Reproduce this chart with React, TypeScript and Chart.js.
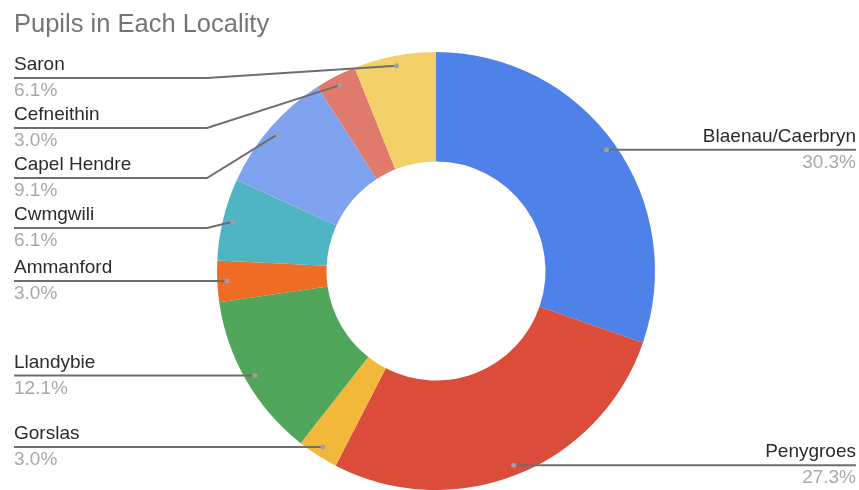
import React, { useEffect, useRef } from "react";
import { Chart, registerables } from "chart.js";

Chart.register(...registerables);

const TITLE = "Pupils in Each Locality";
const categories = [
  "Blaenau/Caerbryn",
  "Penygroes",
  "Gorslas",
  "Llandybie",
  "Ammanford",
  "Cwmgwili",
  "Capel Hendre",
  "Cefneithin",
  "Saron",
];
const pupils = [10, 9, 1, 4, 1, 2, 3, 1, 2];
const sliceColors = [
  "#4F82E8",
  "#DC4C3A",
  "#F2B83A",
  "#50A65A",
  "#EE6C24",
  "#50B5C3",
  "#80A3EF",
  "#E07A6D",
  "#F4D068",
];

const FONT = '"Liberation Sans", Arial, sans-serif';

const labelPlugin = {
  id: "leaderLabels",
  afterDraw(chart: any) {
    const ctx = chart.ctx;
    const W = chart.width;
    // title
    ctx.save();
    ctx.fillStyle = "#757575";
    ctx.font = `25.5px ${FONT}`;
    ctx.textAlign = "left";
    ctx.textBaseline = "alphabetic";
    ctx.fillText(TITLE, 14, 32);

    const meta = chart.getDatasetMeta(0);
    const data = chart.data.datasets[0].data as number[];
    const total = data.reduce((a: number, b: number) => a + b, 0);
    const items: any[] = [];
    meta.data.forEach((arc: any, i: number) => {
      const p = arc.getProps(["x", "y", "startAngle", "endAngle", "outerRadius"], true);
      const a = (p.startAngle + p.endAngle) / 2;
      const r = p.outerRadius * 0.955;
      const ax = p.x + r * Math.cos(a);
      const ay = p.y + r * Math.sin(a);
      items.push({
        i,
        ax,
        ay,
        side: ax < p.x ? "L" : "R",
        ly: ay,
        name: chart.data.labels[i],
        pct: ((data[i] / total) * 100).toFixed(1) + "%",
      });
    });
    const topBound = 78;
    const spacing = 50;
    ["L", "R"].forEach((side) => {
      const s = items.filter((it) => it.side === side).sort((a, b) => a.ay - b.ay);
      let prev = -Infinity;
      s.forEach((it) => {
        let y = Math.max(it.ay, topBound, prev + spacing);
        it.ly = y;
        prev = y;
      });
    });

    items.forEach((it) => {
      ctx.strokeStyle = "#6e6e6e";
      ctx.lineWidth = 2;
      ctx.beginPath();
      if (it.side === "L") {
        const elbow = Math.min(207, it.ax - 15);
        ctx.moveTo(14, it.ly);
        ctx.lineTo(elbow, it.ly);
        ctx.lineTo(it.ax, it.ay);
      } else {
        const elbow = Math.max(W - 207, it.ax + 15);
        ctx.moveTo(W - 3, it.ly);
        ctx.lineTo(elbow, it.ly);
        ctx.lineTo(it.ax, it.ay);
      }
      ctx.stroke();
      ctx.fillStyle = "#a0a0a0";
      ctx.beginPath();
      ctx.arc(it.ax, it.ay, 2.5, 0, Math.PI * 2);
      ctx.fill();

      ctx.font = `19px ${FONT}`;
      ctx.textBaseline = "alphabetic";
      const x = it.side === "L" ? 14 : W - 3;
      ctx.textAlign = it.side === "L" ? "left" : "right";
      ctx.fillStyle = "#2b2b2b";
      ctx.fillText(it.name, x, it.ly - 8);
      ctx.fillStyle = "#a8a8a8";
      ctx.fillText(it.pct, x, it.ly + 18);
    });
    ctx.restore();
  },
};

export default function App() {
  const ref = useRef<HTMLCanvasElement | null>(null);
  useEffect(() => {
    if (!ref.current) return;
    const chart = new Chart(ref.current, {
      type: "doughnut",
      data: {
        labels: categories,
        datasets: [
          {
            data: pupils,
            backgroundColor: sliceColors,
            borderWidth: 0,
          },
        ],
      },
      options: {
        animation: false,
        responsive: false,
        cutout: "50%",
        layout: { padding: { top: 52, bottom: 0, left: 217, right: 204 } },
        plugins: {
          legend: { display: false },
          tooltip: { enabled: false },
          title: { display: false },
        },
      },
      plugins: [labelPlugin],
    });
    return () => chart.destroy();
  }, []);
  return (
    <div style={{ position: "absolute", left: 0, top: 0, width: 859, height: 490, background: "#fff" }}>
      <canvas ref={ref} width={859} height={490} style={{ width: 859, height: 490 }} />
    </div>
  );
}
